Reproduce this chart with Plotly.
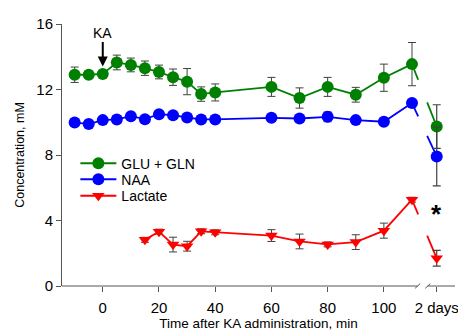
import plotly.graph_objects as go

# ---- data ----
t = [-10, -5, 0, 5, 10, 15, 20, 25, 30, 35, 40, 60, 70, 80, 90, 100, 110]
glu = [12.9, 12.9, 12.95, 13.65, 13.5, 13.3, 13.07, 12.75, 12.48, 11.72, 11.82,
       12.16, 11.48, 12.16, 11.68, 12.72, 13.55]
glu_err = [0.47, 0.15, 0.15, 0.45, 0.42, 0.44, 0.42, 0.5, 0.8, 0.44, 0.52,
           0.58, 0.62, 0.58, 0.45, 0.83, 1.32]
naa = [9.99, 9.89, 10.13, 10.17, 10.37, 10.19, 10.49, 10.43, 10.29, 10.17, 10.17,
       10.27, 10.23, 10.33, 10.13, 10.03, 11.17]
naa_err = [0.15, 0.15, 0.15, 0.15, 0.15, 0.15, 0.15, 0.15, 0.25, 0.15, 0.15,
           0.15, 0.15, 0.3, 0.15, 0.15, 0.15]
lac_t = [15, 20, 25, 30, 35, 40, 60, 70, 80, 90, 100, 110]
lac = [2.82, 3.32, 2.53, 2.43, 3.34, 3.28, 3.08, 2.72, 2.54, 2.68, 3.38, 5.27]
lac_err = [0.15, 0.15, 0.45, 0.3, 0.15, 0.15, 0.36, 0.45, 0.15, 0.45, 0.46, 0.15]

day2_x = 118.8
day2_label = "2 days"
glu_d2, glu_d2_err = 9.74, 1.33
naa_d2, naa_d2_err = 7.91, 1.79
lac_d2, lac_d2_err = 1.69, 0.48

xtick_vals = [0, 20, 40, 60, 80, 100]
ytick_vals = [0, 4, 8, 12, 16]

X_MIN, X_MAX = -14.5, 125.3
gap0, gap1 = 112.0, 115.6  # axis break (in x units)

GREEN, BLUE, RED = "#008000", "#0000FF", "#FF0000"
ERRC = "#404040"
AXC = "#555555"

fig = go.Figure()

def seg(x0, y0, x1, y1, xa):
    return y0 + (y1 - y0) * (xa - x0) / (x1 - x0)

series = [
    ("GLU + GLN", t, glu, glu_err, glu_d2, glu_d2_err, GREEN, "circle", 12, "legend"),
    ("NAA", t, naa, naa_err, naa_d2, naa_d2_err, BLUE, "circle", 12, "legend2"),
    ("Lactate", lac_t, lac, lac_err, lac_d2, lac_d2_err, RED, "triangle-down", 11, "legend3"),
]

# broken connecting segments
for name, xs, ys, es, yd, ed, col, sym, sz, lg in series:
    xl, yl = xs[-1], ys[-1]
    fig.add_trace(go.Scatter(
        x=[xl, gap0 + 0.2, None, gap1 - 0.2, day2_x],
        y=[yl, seg(xl, yl, day2_x, yd, gap0 + 0.2), None,
           seg(xl, yl, day2_x, yd, gap1 - 0.2), yd],
        mode="lines", line=dict(color=col, width=1.8),
        showlegend=False, hoverinfo="skip"))

for name, xs, ys, es, yd, ed, col, sym, sz, lg in series:
    fig.add_trace(go.Scatter(
        x=xs, y=ys, name=name, mode="lines+markers", legend=lg,
        line=dict(color=col, width=1.8),
        marker=dict(color=col, symbol=sym, size=sz),
        error_y=dict(type="data", array=es, color=ERRC, thickness=1, width=4)))

for name, xs, ys, es, yd, ed, col, sym, sz, lg in series:
    fig.add_trace(go.Scatter(
        x=[day2_x], y=[yd], mode="markers", showlegend=False,
        marker=dict(color=col, symbol=sym, size=sz),
        error_y=dict(type="data", array=[ed], color=ERRC, thickness=1.2, width=4)))

shapes = [
    dict(type="line", xref="x", yref="paper", x0=X_MIN, x1=gap0, y0=0, y1=0,
         line=dict(color=AXC, width=1)),
    dict(type="line", xref="x", yref="paper", x0=gap1, x1=X_MAX, y0=0, y1=0,
         line=dict(color=AXC, width=1)),
]
for gx in (gap0, gap1):
    shapes.append(dict(type="line", xref="x", yref="paper",
                       x0=gx - 0.9, x1=gx + 0.9, y0=-0.009, y1=0.009,
                       line=dict(color=AXC, width=1)))

leg_common = dict(xanchor="left", yanchor="middle", bgcolor="rgba(0,0,0,0)",
                  font=dict(size=14), itemwidth=36)
LX = 0.034

# page body has an 8px default margin: size/margins compensate for it
fig.update_layout(
    width=458, height=325,
    margin=dict(l=54, r=7, t=10, b=47),
    paper_bgcolor="white", plot_bgcolor="white",
    font=dict(family="Liberation Sans, Arial, sans-serif", size=15, color="black"),
    shapes=shapes,
    showlegend=True,
    legend=dict(x=LX, y=0.467, **leg_common),
    legend2=dict(x=LX, y=0.406, **leg_common),
    legend3=dict(x=LX, y=0.343, **leg_common),
    xaxis=dict(range=[X_MIN, X_MAX], showgrid=False, zeroline=False, showline=False,
               tickvals=xtick_vals + [day2_x],
               ticktext=[str(v) for v in xtick_vals] + [day2_label],
               ticks="outside", ticklen=5, tickcolor=AXC, ticklabelstandoff=3,
               title=dict(text="Time after KA administration, min",
                          font=dict(size=13.5), standoff=1)),
    yaxis=dict(range=[0, 16], showgrid=False, zeroline=False, showline=True,
               linecolor=AXC, linewidth=1,
               tickvals=ytick_vals, ticks="outside", ticklen=5, tickcolor=AXC,
               title=dict(text="Concentration, mM", font=dict(size=12.5), standoff=8)),
    annotations=[
        dict(x=0, y=13.4, xref="x", yref="y", text="KA", showarrow=True,
             ax=0, ay=-34, arrowhead=2, arrowsize=1, arrowwidth=2,
             arrowcolor="black", font=dict(size=14)),
        dict(x=day2_x, y=4.4, xref="x", yref="y", text="<b>*</b>", showarrow=False,
             font=dict(size=26, color="black")),
    ],
)

fig.write_html("out.html")
